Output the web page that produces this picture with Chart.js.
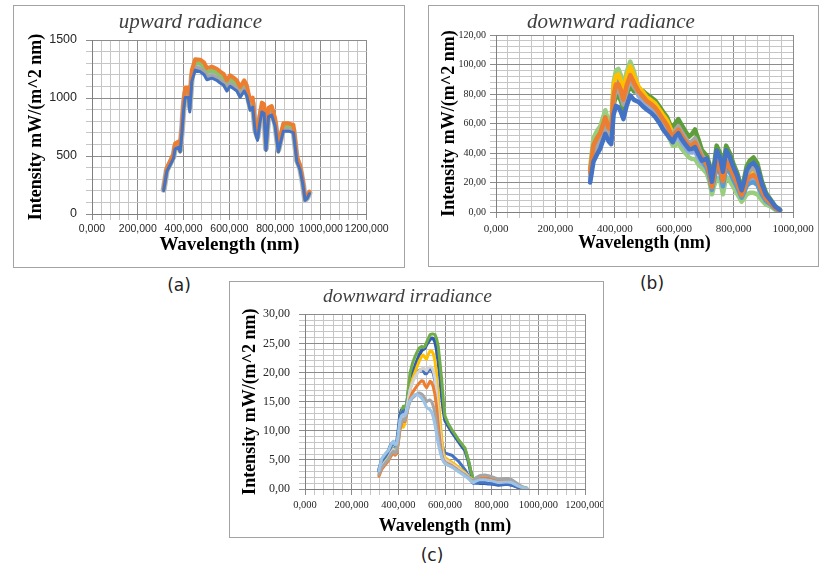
<!DOCTYPE html>
<html><head><meta charset="utf-8">
<script src="https://cdn.jsdelivr.net/npm/chart.js@4.4.1/dist/chart.umd.min.js"></script>
<style>
html,body{margin:0;padding:0;background:#fff;width:820px;height:571px;overflow:hidden;position:relative}
.box{position:absolute;box-sizing:border-box;border:1px solid #a3a3a3;background:#fff}
.box canvas{position:absolute;left:0;top:0}
.lbl{position:absolute;font-family:'DejaVu Sans',sans-serif;font-size:17px;color:#222;transform:translate(-50%,-50%);white-space:nowrap}
</style></head><body>
<div class="box" style="left:13px;top:5px;width:392px;height:263px"><canvas id="cA" width="390" height="261"></canvas></div>
<div class="box" style="left:428px;top:5px;width:391px;height:262px"><canvas id="cB" width="389" height="260"></canvas></div>
<div class="box" style="left:229px;top:281px;width:375px;height:257px"><canvas id="cC" width="373" height="255"></canvas></div>
<div class="lbl" style="left:179px;top:285px">(a)</div>
<div class="lbl" style="left:652px;top:283px">(b)</div>
<div class="lbl" style="left:432px;top:555px">(c)</div>
<script>
// ---------- (a) upward radiance ----------
const WL_A = [313,327,342,356,363,378,385,393,400,407,422,427,436,451,473,490,502,524,545,560,575,589,603,618,633,647,665,676,691,702,713,723,732,742,752,760,771,785,800,814,825,836,858,880,895,909,921,931,940,950];
const UP_BLUE   = [202,368,424,479,562,575,534,701,894,1005,1005,880,1143,1240,1226,1201,1157,1171,1153,1129,1110,1060,1101,1081,1060,1005,1060,1018,894,922,701,635,772,880,867,548,839,852,756,534,627,714,714,701,451,382,258,119,135,175];
const UP_ORANGE = [218,398,460,520,608,624,578,760,968,1090,1090,970,1240,1335,1330,1305,1258,1270,1252,1228,1208,1152,1196,1176,1152,1094,1152,1110,975,1003,768,708,845,960,945,604,915,930,826,588,690,782,782,768,497,420,285,134,152,194];
const UP_GRAY   = [206,375,432,489,573,587,545,715,912,1025,1025,912,1166,1266,1251,1226,1181,1195,1177,1152,1133,1082,1124,1103,1082,1025,1082,1039,912,941,715,658,788,898,885,559,856,870,771,545,640,729,729,715,460,390,263,121,138,178];
const UP_YELLOW = [204,371,428,484,567,581,539,708,903,1015,1015,903,1154,1253,1238,1214,1169,1183,1165,1141,1121,1071,1112,1092,1071,1015,1071,1029,903,931,708,651,780,889,876,554,847,861,763,539,634,722,722,708,455,386,260,120,137,176];
const UP_GREEN  = [213,389,448,506,594,608,564,741,945,1062,1062,945,1208,1311,1296,1270,1223,1238,1219,1194,1173,1120,1164,1143,1120,1062,1120,1076,945,974,741,681,816,930,916,580,886,901,799,564,663,755,755,741,476,404,272,126,143,185];
const UP_LIGHT  = [209,381,439,496,582,596,553,726,926,1041,1041,926,1184,1285,1270,1245,1199,1213,1195,1170,1150,1098,1141,1120,1098,1041,1098,1055,926,955,726,668,800,912,898,568,869,883,783,553,650,740,740,726,467,396,267,123,140,181];
const A_X_LABELS = ['0,000','200,000','400,000','600,000','800,000','1000,000','1200,000'];
const A_Y_LABELS = ['0','500','1000','1500'];

// ---------- (b) downward radiance ----------
const WL_B = [317,328,340,351,368,379,388,396,404,412,420,429,440,452,465,480,495,508,522,536,550,564,576,586,595,603,614,625,637,650,660,670,682,693,710,718,727,735,743,754,764,775,787,799,813,827,835,844,855,867,880,895,909,923,940,956];
const DR_BLUE   = [20,34,39,43,53,48,46, 66,72,71,68,63,72,79,76, 74.6,71.5,69.3,67.3,64.4,60.4,55.5,52.4,49.8,47.3, 51,53.4,49.4,46,42.6,42.8,44,38.8,34.8, 36.2,31.2,20.5,30.8,41.7,37.3,27.3,41.9,37.2,30.6,23.9,14.7,20.1,28.2,31.7,33.4,29.9,19.1,11.8,8.3,3.6,1.4];
const DR_ORANGE = [27,45.2,50.2,53.5,64.2,57.1,55.8, 79.2,86.4,86.6,83,76.2,85.8,92.8,87.4, 81.8,78.3,75.2,73.2,70.7,66.7,62.3,58.8,54.3,50.3, 53.3,55.8,51.8,48.3,44.7,45.4,47,41.4,36.6, 32,27,17,25.5,34,31,21,34.5,30.5,25,19,11.5,15.5,21.5,24,25,22.5,14.5,9,6.5,2.8,1];
const DR_GRAY   = [24,40.4,45.4,49,59.4,53.2,51.6, 75.9,82.8,82.7,79.3,72.9,82.4,89.4,84.6, 81,77.5,74.5,72.5,70,66,61.5,58,53.5,49.5, 55.5,58.2,54.2,50.5,46.8,47.9,50,43.9,38.4, 34.4,29.4,19,28.5,38.4,34.6,24.6,38.7,34.3,28.2,21.8,13.3,18.1,25.3,28.4,29.8,26.7,17.1,10.6,7.5,3.3,1.2];
const DR_YELLOW = [26,43.6,48.6,52,62.6,55.8,54.4, 84.7,92.4,93.1,89.3,81.7,91.6,98.6,92.2, 85,81.3,77.8,75.8,73.5,69.5,65.3,62,57.3,53.3, 54.8,57.4,53.4,49.8,46.1,47.1,49,43.1,37.8, 33.2,28.2,18,27,36.2,32.8,22.8,36.6,32.4,26.6,20.4,12.4,16.8,23.4,26.2,27.4,24.6,15.8,9.8,7,3,1.1];
const DR_LBLUE  = [25,42,47,50.5,61,54.5,53, 82.5,90,90.5,86.8,79.5,89.3,96.3,90.3, 82.6,79,75.8,73.8,71.4,67.4,63,59.6,55,51, 51.8,54.2,50.2,46.8,43.3,43.7,45,39.7,35.4, 29.6,24.6,15,22.5,29.6,27.4,17.4,30.3,26.7,21.8,16.2,9.7,12.9,17.7,19.6,20.2,18.3,11.9,7.4,5.5,2.3,0.8];
const DR_PERI   = [22,37.2,42.2,46,56.2,50.6,48.8, 80.3,87.6,87.9,84.3,77.3,87,94,88.4, 78.6,75.3,72.6,70.6,67.9,63.9,59.3,55.6,51.3,47.3, 48.8,51,47,43.8,40.5,40.3,41,36.3,33, 30.8,25.8,16,24,31.8,29.2,19.2,32.4,28.6,23.4,17.6,10.6,14.2,19.6,21.8,22.6,20.4,13.2,8.2,6,2.5,0.9];
const DR_GREEN  = [23,38.8,43.8,47.5,57.8,51.9,50.2, 72.6,79.2,78.8,75.5,69.6,78.9,85.9,81.7, 82.6,82,79.7,77.7,75.6,71.6,67.5,64.4,59.5,55.5, 60,63,59,55,51,53,56,49,42, 38,33,22,33,45,40,30,45,40,33,26,16,22,31,35,37,33,21,13,9,4,1.5];
const DR_LGREEN = [30,50,55,58,69,61,60, 88,96,97,93,85,95,102,95, 82.6,76,70.6,68.6,65.8,61.8,57,53.2,49,45, 45,47,43,40,37,36,36,32,30, 26,21,12,18,23,22,12,24,21,17,12,7,9,12,13,13,12,8,5,4,1.5,0.5];
const B_X_LABELS = ['0,000','200,000','400,000','600,000','800,000','1000,000'];
const B_Y_LABELS = ['0,00','20,00','40,00','60,00','80,00','100,00','120,00'];

// ---------- (c) downward irradiance ----------
const WL_C = [317,329,343,357,368,379,386,393,400,407,414,421,428,436,443,450,460,471,480,490,500,507,514,521,529,536,543,550,557,564,571,579,586,593,600,614,629,643,657,671,686,700,710,721,735,750,771,786,800,829,857,871,886,900,914,929,950];
const DI_LBLUE  = [3.2,5.2,6.0,6.6,7.6,8.2,7.6,7.7,9.5,11.8,12.6,12.8,12.6,13.4, 14.5,15.2,15.8,16.2,16.3,16.0,15.6,15.2,14.6,14.0,13.8,13.6,13.2,12.3,11.0, 9.4,7.8,6.4,5.4,4.8,4.4,4.1,3.8,3.4,3.0,2.6,2.2,1.8, 1.4,1.1,1.4,1.6,1.6,1.5,1.4,1.1,1.2,1.2,1.1,0.8,0.5,0.3,0.1];
const DI_GRAY   = [2.5,3.7,4.4,5.1,6.0,6.5,6.1,6.4,8.3,10.6,11.5,12.0,11.8,13.0, 14.2,15.0,15.6,16.0,16.3,16.5,16.3,16.0,15.5,15.0,15.2,15.3,15.0,14.2,13.0, 11.2,9.0,7.0,5.6,4.8,4.4,4.1,3.8,3.5,3.1,2.8,2.4,2.0, 1.6,1.4,2.0,2.3,2.4,2.3,2.1,1.7,1.8,1.8,1.6,1.2,0.8,0.4,0.1];
const DI_ORANGE = [2.2,3.4,4.1,4.8,5.6,6.2,5.8,6.1,8.0,10.2,11.2,11.8,11.6,12.8, 14.2,15.5,16.5,17.2,17.7,18.2,18.6,18.5,17.8,17.4,18.0,18.5,18.3,17.5,16.2, 14.0,11.0,8.0,6.0,5.0,4.6,4.3,4.0,3.6,3.2,2.8,2.4,1.9, 1.5,1.2,1.6,1.8,1.9,1.8,1.7,1.3,1.4,1.4,1.3,1.0,0.6,0.3,0.1];
const DI_SILVER = [2.6,3.8,4.6,5.3,6.2,6.8,6.4,6.6,8.6,11.0,12.0,12.4,12.2,13.8, 15.5,17.0,18.2,19.2,19.8,20.3,20.6,20.8,20.5,20.3,20.8,21.0,20.9,20.3,19.0, 16.5,13.0,9.5,7.0,5.6,5.0,4.7,4.3,3.9,3.5,3.0,2.6,2.1, 1.7,1.4,1.9,2.2,2.3,2.2,2.0,1.6,1.7,1.7,1.5,1.1,0.7,0.4,0.1];
const DI_YELLOW = [2.4,3.6,4.3,5.0,5.8,6.3,5.9,6.2,8.0,10.3,11.0,10.6,11.2,13.0, 15.0,17.0,18.8,20.0,21.0,22.0,22.8,23.0,22.6,22.3,23.2,23.7,23.7,23.2,22.0, 19.5,16.0,12.0,8.5,6.2,5.4,5.0,4.6,4.2,3.8,3.3,2.8,2.2, 1.8,1.3,1.6,1.8,1.8,1.7,1.6,1.2,1.3,1.3,1.2,0.9,0.6,0.3,0.1];
const DI_BLUE   = [3.0,4.8,5.6,6.3,7.3,7.8,7.4,7.6,9.6,12.0,13.0,13.4,13.0,14.0, 15.6,17.2,18.5,19.4,20.0,20.4,20.5,20.3,19.8,19.8,20.3,20.6,20.4,19.8,18.6, 16.5,13.5,10.5,8.0,6.8,6.2,6.0,5.8,5.3,4.8,4.1,3.3,2.3, 1.5,1.0,1.0,1.1,1.1,1.0,0.9,0.8,0.8,0.8,0.7,0.5,0.3,0.2,0.1];
const DI_GREEN  = [3.0,4.7,5.2,5.6,6.4,7.0,6.8,7.0,9.5,11.9,13.2,14.2,14.0,14.7, 17.5,19.9,21.5,22.7,23.5,24.2,24.5,24.3,24.5,25.2,25.9,26.5,26.6,26.6,26.5, 25.8,24.5,21.5,18.7,15.2,12.5,11.2,10.2,9.4,8.5,7.8,7.0,5.0, 3.2,1.7,1.9,2.1,2.1,1.9,1.8,1.4,1.5,1.5,1.4,1.0,0.7,0.4,0.2];
const DI_DBLUE  = [3.3,5.0,5.8,6.5,7.6,8.0,7.6,7.8,10.0,12.6,13.6,13.8,13.6,14.5, 16.5,18.5,20.0,21.0,22.0,23.0,23.8,24.0,24.2,24.8,25.3,25.7,25.9,25.8,25.3, 24.0,22.0,19.0,16.0,13.5,11.8,10.8,9.8,9.0,8.2,7.4,6.6,4.8, 3.0,1.4,1.1,1.0,1.0,0.9,0.9,0.7,0.8,0.8,0.7,0.5,0.3,0.2,0.1];
const C_X_LABELS = ['0,000','200,000','400,000','600,000','800,000','1000,000','1200,000'];
const C_Y_LABELS = ['0,00','5,00','10,00','15,00','20,00','25,00','30,00'];

const SERIF = "'Liberation Serif','Times New Roman',serif";
const SANS = "'Liberation Sans',Arial,sans-serif";

function axisCfg(ax) {
  const ticks = [];
  for (let k = 0; k * ax.minor <= ax.max + 1e-9; k++) ticks.push(Math.round(k * ax.minor * 1000) / 1000);
  const isMajor = v => Math.abs(v / ax.major - Math.round(v / ax.major)) < 1e-6;
  return {
    type: 'linear', min: 0, max: ax.max,
    afterBuildTicks: a => { a.ticks = ticks.map(v => ({ value: v })); },
    afterFit: a => {
      if (a.isHorizontal()) a.height = ax.size; else a.width = ax.size;
      a.paddingLeft = 0; a.paddingRight = 0; a.paddingTop = 0; a.paddingBottom = 0;
    },
    ticks: {
      autoSkip: false, maxRotation: 0, minRotation: 0, padding: ax.tickPad,
      font: ax.tickFont, color: '#262626',
      callback: v => isMajor(v) ? ax.labels[Math.round(v / ax.major)] : ''
    },
    grid: {
      color: c => (c.tick && isMajor(c.tick.value)) ? '#8c8c8c' : '#c6c6c6',
      lineWidth: 1, tickLength: 6, drawTicks: true
    },
    border: { color: '#7f7f7f', width: 1 },
    title: { display: true, text: ax.title, font: ax.titleFont, color: '#000', padding: ax.titlePad }
  };
}

function makeChart(id, p) {
  const datasets = p.series.map(s => ({
    label: s.name,
    data: p.wl.map((x, i) => ({ x: x, y: s.values[i] })),
    borderColor: s.color, backgroundColor: s.color,
    borderWidth: s.width || p.lineWidth, pointRadius: 0, tension: 0, fill: false,
    borderJoinStyle: 'round', borderCapStyle: 'round'
  }));
  return new Chart(document.getElementById(id), {
    type: 'line',
    data: { datasets },
    options: {
      responsive: false, animation: false, devicePixelRatio: 1,
      layout: { padding: { left: 0, right: p.padRight, top: 0, bottom: 0 } },
      plugins: {
        legend: { display: false }, tooltip: { enabled: false },
        title: { display: true, text: p.title, color: '#404040',
          font: { family: SERIF, style: 'italic', size: p.titleSize, weight: 'normal' },
          padding: p.titlePad }
      },
      scales: { x: axisCfg(p.x), y: axisCfg(p.y) }
    }
  });
}

makeChart('cA', {
  title: 'upward radiance', titleSize: 21, titlePad: { top: 3.4, bottom: 5.4 }, padRight: 37.3, lineWidth: 4,
  wl: WL_A,
  series: [
    { name: 'S1', color: '#4472C4', values: UP_BLUE, width: 3 },
    { name: 'S2', color: '#ED7D31', values: UP_ORANGE },
    { name: 'S3', color: '#A5A5A5', values: UP_GRAY },
    { name: 'S4', color: '#FFC000', values: UP_YELLOW },
    { name: 'S5', color: '#8CC168', values: UP_GREEN },
    { name: 'S6', color: '#A4BFE4', values: UP_LIGHT, width: 6 }
  ],
  x: { max: 1200, minor: 40, major: 200, labels: A_X_LABELS, size: 53, tickPad: 3,
       tickFont: { family: SANS, size: 10.5 }, title: 'Wavelength (nm)',
       titleFont: { family: SERIF, weight: 'bold', size: 19 }, titlePad: { top: 0, bottom: 10.6 } },
  y: { max: 1500, minor: 100, major: 500, labels: A_Y_LABELS, size: 78, tickPad: 9,
       tickFont: { family: SANS, size: 12.5 }, title: 'Intensity mW/(m^2 nm)',
       titleFont: { family: SERIF, weight: 'bold', size: 18 }, titlePad: { top: 11.2, bottom: 0 } }
});

makeChart('cB', {
  title: 'downward radiance', titleSize: 21, titlePad: { top: 3.4, bottom: 0.4 }, padRight: 25, lineWidth: 4.5,
  wl: WL_B,
  series: [
    { name: 'S1', color: '#4472C4', values: DR_BLUE },
    { name: 'S2', color: '#ED7D31', values: DR_ORANGE },
    { name: 'S3', color: '#A5A5A5', values: DR_GRAY },
    { name: 'S4', color: '#FFC000', values: DR_YELLOW },
    { name: 'S5', color: '#5B9BD5', values: DR_LBLUE },
    { name: 'S6', color: '#8FAADC', values: DR_PERI },
    { name: 'S7', color: '#5E9E3A', values: DR_GREEN },
    { name: 'S8', color: '#9ACD7E', values: DR_LGREEN }
  ],
  x: { max: 1000, minor: 40, major: 200, labels: B_X_LABELS, size: 54, tickPad: 5,
       tickFont: { family: SERIF, size: 11 }, title: 'Wavelength (nm)',
       titleFont: { family: SERIF, weight: 'bold', size: 18 }, titlePad: { top: 0, bottom: 12.2 } },
  y: { max: 120, minor: 4, major: 20, labels: B_Y_LABELS, size: 67, tickPad: 4,
       tickFont: { family: SERIF, size: 10 }, title: 'Intensity mW/(m^2 nm)',
       titleFont: { family: SERIF, weight: 'bold', size: 18 }, titlePad: { top: 9.2, bottom: 0 } }
});

makeChart('cC', {
  title: 'downward irradiance', titleSize: 19.5, titlePad: { top: 3.3, bottom: 5.6 }, padRight: 18, lineWidth: 3,
  wl: WL_C,
  series: [
    { name: 'S1', color: '#9DC3E6', values: DI_LBLUE },
    { name: 'S2', color: '#A5A5A5', values: DI_GRAY },
    { name: 'S3', color: '#ED7D31', values: DI_ORANGE },
    { name: 'S4', color: '#D3D3D3', values: DI_SILVER },
    { name: 'S5', color: '#FFC000', values: DI_YELLOW },
    { name: 'S6', color: '#4472C4', values: DI_BLUE },
    { name: 'S7', color: '#70AD47', values: DI_GREEN },
    { name: 'S8', color: '#2F5CB0', values: DI_DBLUE, width: 3.5 }
  ],
  x: { max: 1200, minor: 40, major: 200, labels: C_X_LABELS, size: 48, tickPad: 4,
       tickFont: { family: SERIF, size: 10.5 }, title: 'Wavelength (nm)',
       titleFont: { family: SERIF, weight: 'bold', size: 18 }, titlePad: { top: 0, bottom: 0 } },
  y: { max: 30, minor: 1, major: 5, labels: C_Y_LABELS, size: 75, tickPad: 9,
       tickFont: { family: SERIF, size: 12 }, title: 'Intensity mW/(m^2 nm)',
       titleFont: { family: SERIF, weight: 'bold', size: 18 }, titlePad: { top: 9.2, bottom: 0 } }
});
</script>
</body></html>
